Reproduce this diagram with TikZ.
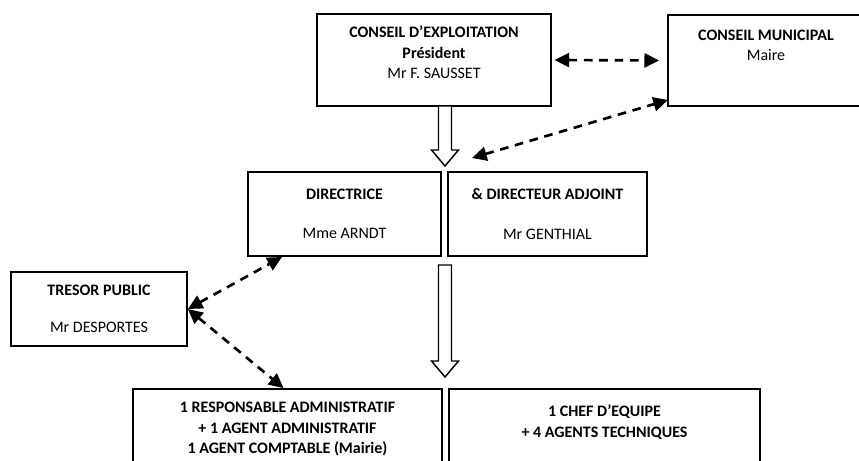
\documentclass[tikz,border=0pt]{standalone}
\usepackage{fontspec}
\setmainfont{Carlito}
\usetikzlibrary{arrows.meta,calc}
\tikzset{every node/.style={align=center, inner sep=0pt},
  box/.style 2 args={draw, line width=1.3pt, minimum width=#1*0.75pt, minimum height=#2*0.75pt},
  dasharrow/.style={line width=2pt, dash pattern=on 6.5pt off 5pt,
    {Triangle[length=11pt,width=10.5pt]}-{Triangle[length=11pt,width=10.5pt]}},
  hollow/.style={draw, line width=1.1pt, fill=white, line join=miter}}
\newcommand\hollowdown[2]{%
  \draw[hollow] ($(#1)+(-6.5,0)$) -- ($(#2)+(-6.5,-16)$) -- ($(#2)+(-13.5,-16)$) -- (#2)
    -- ($(#2)+(13.5,-16)$) -- ($(#2)+(6.5,-16)$) -- ($(#1)+(6.5,0)$) -- cycle;}

\begin{document}
\begin{tikzpicture}[x=0.75pt, y=-0.75pt, font=\fontsize{12}{13.5}\selectfont]
  \useasboundingbox (0,0) rectangle (859,460);
  % boxes
  \node[box={234}{92}] (ce)  at (434,60)    {\textbf{CONSEIL D’EXPLOITATION}\\[2pt]\textbf{Président}\\[2pt]Mr F. SAUSSET\\[-2pt]~};
  \node[box={196}{91}] (cm)  at (766,60.5)  {\textbf{CONSEIL MUNICIPAL}\\[2pt]Maire\\[2pt]~\\[-6pt]~};
  \node[box={193}{84}] (dir) at (344.5,214) {\textbf{DIRECTRICE}\\[16pt]Mme ARNDT};
  \node[box={199}{84}] (adj) at (547.5,214) {\textbf{\& DIRECTEUR ADJOINT}\\[16pt]Mr GENTHIAL};
  \node[box={176}{74}] (tp)  at (99,309)    {\textbf{TRESOR PUBLIC}\\[14pt]Mr DESPORTES};
  \node[box={309}{80}] (adm) at (287.5,429) {\textbf{1 RESPONSABLE ADMINISTRATIF}\\[2pt]\textbf{+ 1 AGENT ADMINISTRATIF}\\[2pt]\textbf{1 AGENT COMPTABLE (Mairie)}};
  \node[box={311}{80}] (tech) at (604.5,429) {\textbf{1 CHEF D’EQUIPE}\\[2pt]\textbf{+ 4 AGENTS TECHNIQUES}\\[-2pt]~};
  % free ends
  \coordinate (a1) at (445,106);  \coordinate (a1tip) at (445,166);
  \coordinate (a2) at (445,265);  \coordinate (a2tip) at (445,377);
  \coordinate (cmin) at (668,100); \coordinate (dirin) at (472,158);
  \coordinate (dirout) at (282,257);
  % links
  \hollowdown{a1}{a1tip}
  \hollowdown{a2}{a2tip}
  \draw[dasharrow, shorten <=2pt, shorten >=6pt] (ce.east) -- (cm.west);
  \draw[dasharrow] (dirin) -- (cmin);
  \draw[dasharrow] (tp.east) -- (dirout);
  \draw[dasharrow] (tp.east) -- ([xshift=-3pt]adm.north);
\end{tikzpicture}
\end{document}
